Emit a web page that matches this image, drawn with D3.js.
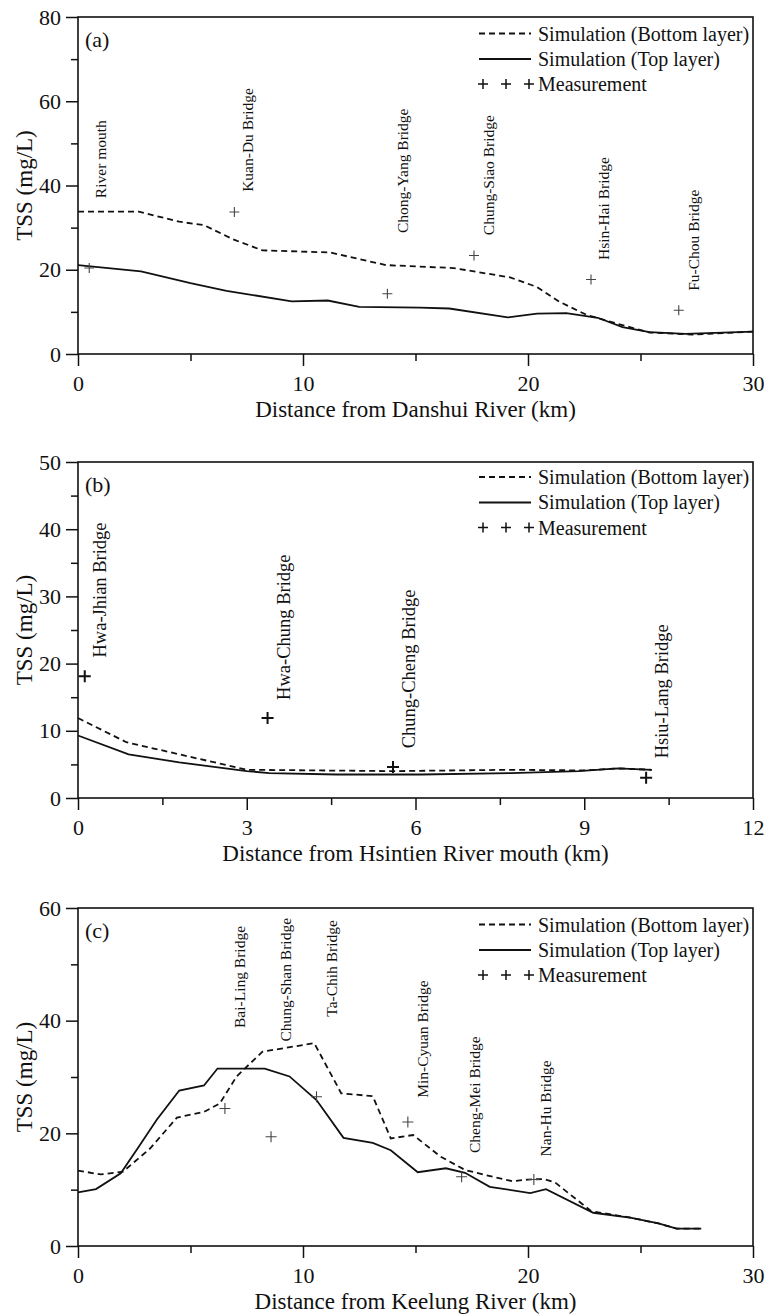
<!DOCTYPE html>
<html>
<head>
<meta charset="utf-8">
<script src="https://cdn.jsdelivr.net/npm/d3@7"></script>
<style>
  body { margin: 0; background: #fff; }
  text { font-family: "Liberation Serif", "Times New Roman", serif; fill: #111; }
</style>
</head>
<body>
<svg id="chart" width="778" height="1316"></svg>
<script>
// ---- (a) Danshui River ----
const danshuiBottomKm  = [0, 2.7, 4.5, 5.6, 6.9, 8.2, 11.2, 13.7, 16.7, 19.2, 20.4, 21.4, 22.6, 23.9, 25.4, 27.3, 30];
const danshuiBottomTss = [33.8, 33.8, 31.4, 30.6, 27.2, 24.6, 24.1, 21.1, 20.4, 18.2, 15.9, 12.4, 9.3, 7.3, 5.1, 4.6, 5.3];
const danshuiTopKm  = [0, 2.8, 5.0, 6.6, 9.5, 11.1, 12.5, 15.2, 16.5, 19.1, 20.4, 21.7, 23.1, 24.2, 25.4, 27.0, 30];
const danshuiTopTss = [21.1, 19.6, 16.8, 15.0, 12.5, 12.7, 11.2, 11.0, 10.8, 8.7, 9.6, 9.7, 8.6, 6.4, 5.2, 4.8, 5.3];
const danshuiMeasKm  = [0.5, 6.95, 13.75, 17.6, 22.8, 26.7];
const danshuiMeasTss = [20.4, 33.7, 14.3, 23.4, 17.7, 10.4];
const danshuiBridges = ["River mouth", "Kuan-Du Bridge", "Chong-Yang Bridge", "Chung-Siao Bridge", "Hsin-Hai Bridge", "Fu-Chou Bridge"];
const danshuiBridgeKm  = [1.05, 7.56, 14.44, 18.3, 23.4, 27.4];
const danshuiBridgeTss = [37.0, 38.5, 28.7, 28.2, 22.3, 15.0];

// ---- (b) Hsintien River ----
const hsintienBottomKm  = [0, 0.86, 3.0, 5.6, 7.7, 9.0, 9.6, 10.2];
const hsintienBottomTss = [11.9, 8.3, 4.2, 4.0, 4.2, 4.1, 4.4, 4.2];
const hsintienTopKm  = [0, 0.9, 1.8, 3.0, 3.4, 4.6, 6.1, 7.7, 8.9, 9.6, 10.2];
const hsintienTopTss = [9.3, 6.5, 5.3, 4.0, 3.7, 3.5, 3.5, 3.7, 4.0, 4.4, 4.2];
const hsintienMeasKm  = [0.12, 3.37, 5.6, 10.1];
const hsintienMeasTss = [18.1, 11.9, 4.6, 3.0];
const hsintienBridges = ["Hwa-Jhian Bridge", "Hwa-Chung Bridge", "Chung-Cheng Bridge", "Hsiu-Lang Bridge"];
const hsintienBridgeKm  = [0.4, 3.67, 5.9, 10.39];
const hsintienBridgeTss = [20.9, 14.6, 7.4, 5.9];

// ---- (c) Keelung River ----
const keelungBottomKm  = [0, 1.0, 2.0, 3.2, 4.4, 5.6, 6.3, 7.05, 8.2, 10.5, 11.7, 13.1, 13.9, 14.9, 16.1, 17.2, 18.1, 19.3, 20.0, 20.7, 21.2, 22.8, 24.6, 25.8, 26.6, 27.7];
const keelungBottomTss = [13.4, 12.7, 13.2, 17.3, 22.8, 23.8, 25.3, 30.1, 34.5, 36.0, 27.1, 26.6, 19.1, 19.7, 15.9, 13.5, 12.6, 11.5, 11.8, 11.9, 11.3, 6.2, 5.0, 4.0, 3.1, 3.1];
const keelungTopKm  = [0, 0.8, 1.9, 2.7, 3.5, 4.5, 5.6, 6.2, 8.3, 9.4, 10.6, 11.8, 13.1, 13.9, 15.1, 16.35, 17.2, 18.3, 20.1, 20.8, 22.9, 24.6, 25.8, 26.6, 27.7];
const keelungTopTss = [9.5, 10.1, 12.9, 17.6, 22.4, 27.6, 28.5, 31.5, 31.5, 30.1, 25.9, 19.2, 18.3, 17.0, 13.1, 13.8, 13.0, 10.5, 9.4, 10.1, 5.9, 5.0, 4.0, 3.1, 3.1];
const keelungMeasKm  = [6.53, 8.58, 10.6, 14.66, 17.05, 20.26];
const keelungMeasTss = [24.4, 19.4, 26.5, 22.0, 12.3, 11.8];
const keelungBridges = ["Bai-Ling Bridge", "Chung-Shan Bridge", "Ta-Chih Bridge", "Min-Cyuan Bridge", "Cheng-Mei Bridge", "Nan-Hu Bridge"];
const keelungBridgeKm  = [7.2, 9.28, 11.3, 15.35, 17.64, 20.8];
const keelungBridgeTss = [38.7, 36.3, 40.7, 26.3, 16.5, 15.9];

const legendLabels = ["Simulation (Bottom layer)", "Simulation (Top layer)", "Measurement"];

const svg = d3.select("#chart");
const left = 78, right = 753;

function drawPanel(p) {
  let x = d3.scaleLinear().domain([0, p.xMax]).range([left, right]);
  let y = d3.scaleLinear().domain([0, p.yMax]).range([p.bottom, p.top]);
  let g = svg.append("g");

  // minor ticks
  g.append("g").attr("transform", `translate(0,${p.bottom})`)
    .call(d3.axisBottom(x).tickValues(p.xMinor).tickSize(7).tickFormat(""))
    .call(a => a.select(".domain").remove());
  g.append("g").attr("transform", `translate(${left},0)`)
    .call(d3.axisLeft(y).tickValues(p.yMinor).tickSize(7).tickFormat(""))
    .call(a => a.select(".domain").remove());

  // major ticks + labels
  let xAxis = g.append("g").attr("transform", `translate(0,${p.bottom})`)
    .call(d3.axisBottom(x).tickValues(d3.range(0, p.xMax + 0.01, p.xStep)).tickSize(12).tickPadding(9).tickSizeOuter(0));
  let yAxis = g.append("g").attr("transform", `translate(${left},0)`)
    .call(d3.axisLeft(y).tickValues(d3.range(0, p.yMax + 0.01, p.yStep)).tickSize(12).tickPadding(5).tickSizeOuter(0));
  [xAxis, yAxis].forEach(a => {
    a.attr("font-family", null).attr("font-size", null);
    a.selectAll("text").style("font-size", "22px").attr("fill", "#111");
    a.selectAll("line").attr("stroke", "#111").attr("stroke-width", 1.5);
    a.select(".domain").remove();
  });
  g.selectAll(".tick line").attr("stroke", "#111").attr("stroke-width", 1.5);

  // frame
  g.append("rect")
    .attr("x", left).attr("y", p.top)
    .attr("width", right - left).attr("height", p.bottom - p.top)
    .attr("fill", "none").attr("stroke", "#111").attr("stroke-width", 1.6);

  // axis titles
  g.append("text")
    .attr("x", (left + right) / 2).attr("y", p.bottom + 63)
    .attr("text-anchor", "middle").style("font-size", "23px")
    .text(p.xTitle);
  g.append("text")
    .attr("transform", `translate(24,${(p.top + p.bottom) / 2}) rotate(-90)`)
    .attr("dy", "0.35em")
    .attr("text-anchor", "middle").style("font-size", "23px")
    .text("TSS (mg/L)");
  g.append("text")
    .attr("x", left + 7).attr("y", p.top + 30)
    .style("font-size", "22px")
    .text(p.tag);

  // curves
  let line = d3.line().x(d => x(d[0])).y(d => y(d[1]));
  g.append("path")
    .datum(d3.zip(p.bottomKm, p.bottomTss))
    .attr("d", line).attr("fill", "none")
    .attr("stroke", "#111").attr("stroke-width", 1.8)
    .attr("stroke-dasharray", "6,4");
  g.append("path")
    .datum(d3.zip(p.topKm, p.topTss))
    .attr("d", line).attr("fill", "none")
    .attr("stroke", "#111").attr("stroke-width", 1.8);

  // measurements
  let h = p.markSize / 2;
  let cross = `M${-h},0H${h}M0,${-h}V${h}`;
  g.selectAll(".meas")
    .data(d3.zip(p.measKm, p.measTss))
    .enter().append("path")
    .attr("class", "meas")
    .attr("transform", d => `translate(${x(d[0])},${y(d[1])})`)
    .attr("d", cross)
    .attr("stroke", p.markColor).attr("stroke-width", p.markWidth);

  // bridge labels
  g.selectAll(".bridge")
    .data(d3.zip(p.bridges, p.bridgeKm, p.bridgeTss))
    .enter().append("text")
    .attr("class", "bridge")
    .attr("transform", d => `translate(${x(d[1])},${y(d[2])}) rotate(-90)`)
    .attr("dy", "0.3em")
    .style("font-size", p.bridgeFont + "px")
    .text(d => d[0]);

  // legend
  let lg = g.append("g").attr("transform", `translate(${right},${p.top + p.legendDy})`);
  lg.append("line").attr("x1", -274).attr("x2", -222).attr("y1", 0).attr("y2", 0)
    .attr("stroke", "#111").attr("stroke-width", 1.8).attr("stroke-dasharray", "6,4");
  lg.append("line").attr("x1", -274).attr("x2", -222).attr("y1", 25.5).attr("y2", 25.5)
    .attr("stroke", "#111").attr("stroke-width", 1.8);
  lg.selectAll(".lgmark")
    .data([-270, -247, -224])
    .enter().append("path")
    .attr("transform", d => `translate(${d},50.5)`)
    .attr("d", "M-5,0H5M0,-5V5")
    .attr("stroke", "#111").attr("stroke-width", 1.5);
  lg.selectAll(".lgtext")
    .data(legendLabels)
    .enter().append("text")
    .attr("x", -215).attr("y", (d, i) => i * 25.3)
    .attr("dy", "0.35em")
    .style("font-size", "20px")
    .text(d => d);
}

drawPanel({
  tag: "(a)", top: 17, bottom: 354, xMax: 30, xStep: 10, xMinor: [5, 15, 25],
  yMax: 80, yStep: 20, yMinor: [10, 30, 50, 70],
  xTitle: "Distance from Danshui River (km)",
  bottomKm: danshuiBottomKm, bottomTss: danshuiBottomTss,
  topKm: danshuiTopKm, topTss: danshuiTopTss,
  measKm: danshuiMeasKm, measTss: danshuiMeasTss,
  bridges: danshuiBridges, bridgeKm: danshuiBridgeKm, bridgeTss: danshuiBridgeTss,
  bridgeFont: 15.5, markSize: 10, markWidth: 1.1, markColor: "#444", legendDy: 16.5
});

drawPanel({
  tag: "(b)", top: 462, bottom: 798, xMax: 12, xStep: 3, xMinor: [1.5, 4.5, 7.5, 10.5],
  yMax: 50, yStep: 10, yMinor: [5, 15, 25, 35, 45],
  xTitle: "Distance from Hsintien River mouth (km)",
  bottomKm: hsintienBottomKm, bottomTss: hsintienBottomTss,
  topKm: hsintienTopKm, topTss: hsintienTopTss,
  measKm: hsintienMeasKm, measTss: hsintienMeasTss,
  bridges: hsintienBridges, bridgeKm: hsintienBridgeKm, bridgeTss: hsintienBridgeTss,
  bridgeFont: 18.5, markSize: 12, markWidth: 2, markColor: "#111", legendDy: 15
});

drawPanel({
  tag: "(c)", top: 908, bottom: 1246, xMax: 30, xStep: 10, xMinor: [5, 15, 25],
  yMax: 60, yStep: 20, yMinor: [10, 30, 50],
  xTitle: "Distance from Keelung River (km)",
  bottomKm: keelungBottomKm, bottomTss: keelungBottomTss,
  topKm: keelungTopKm, topTss: keelungTopTss,
  measKm: keelungMeasKm, measTss: keelungMeasTss,
  bridges: keelungBridges, bridgeKm: keelungBridgeKm, bridgeTss: keelungBridgeTss,
  bridgeFont: 15.5, markSize: 11, markWidth: 1.1, markColor: "#444", legendDy: 16.5
});
</script>
</body>
</html>
